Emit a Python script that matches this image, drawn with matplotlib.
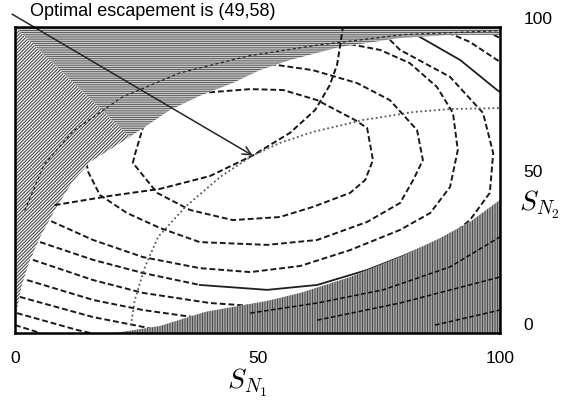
import matplotlib.pyplot as plt
from matplotlib.patches import Polygon

plt.rcParams['font.family'] = ['Liberation Sans', 'DejaVu Sans']
plt.rcParams['mathtext.fontset'] = 'cm'
plt.rcParams['hatch.linewidth'] = 0.85

# optimum of the escapement value surface
opt = (49, 58)

# contour lines in the open (white) part of the plane
loop1_x = [24.7, 26.4, 32.0, 38.1, 48.5, 55.3, 62.3, 70.1, 72.6, 73.8, 72.2, 69.1, 61.4, 54.6, 44.9, 36.1, 29.3, 24.3, 24.7]
loop1_y = [58.2, 67.3, 73.9, 78.4, 79.7, 79.4, 76.1, 69.6, 67.0, 56.5, 50.0, 45.8, 41.2, 37.9, 36.9, 40.2, 45.8, 55.6, 58.2]

loop2_x = [52.6, 61.4, 70.5, 77.3, 82.9, 84.1, 82.1, 79.4, 72.6, 62.3, 52.0, 38.1, 29.9, 23.1, 17.5, 15.1, 14.4]
loop2_y = [87.9, 85.9, 81.7, 76.1, 66.3, 56.5, 50.0, 42.5, 36.3, 30.4, 28.8, 29.7, 34.3, 39.2, 45.1, 52.6, 58.2]

loop3_x = [69.1, 75.3, 81.4, 87.0, 90.3, 91.3, 89.7, 85.6, 79.4, 69.1, 58.8, 48.5, 38.1, 26.4, 16.1, 7.8, 6.2]
loop3_y = [94.4, 92.5, 88.2, 80.4, 71.9, 59.8, 47.7, 39.2, 33.7, 27.1, 21.9, 19.9, 21.2, 24.8, 30.4, 36.3, 37.6]

loop4_x = [77.3, 79.4, 89.7, 96.5, 98.6, 97.9, 93.8, 90.0]
loop4_y = [95.8, 92.5, 83.7, 71.9, 58.8, 45.8, 36.9, 32.0]

low4_x = [3.5, 5.2, 16.1, 26.4, 38.1]
low4_y = [30.8, 29.7, 23.9, 19.6, 15.7]

solid_low_x = [38.1, 52.0, 62.3, 72.6, 79.4, 87.6]
solid_low_y = [15.7, 14.1, 15.7, 20.6, 24.8, 30.4]

solid_top_x = [80.4, 82.1, 91.8, 99.4, 100.0]
solid_top_y = [98.7, 98.0, 89.2, 79.4, 78.8]

outer1_x = [87.6, 93.8, 100.0]
outer1_y = [99.3, 95.1, 88.6]
outer2_x = [95.5, 100.0]
outer2_y = [100.0, 96.4]

low5_x = [3.7, 16.1, 26.4, 40.2, 52.0]
low5_y = [23.9, 17.3, 13.1, 9.8, 8.5]
low6_x = [2.5, 16.1, 26.4, 38.1]
low6_y = [17.3, 10.8, 7.5, 4.9]
low7_x = [1.0, 16.1, 26.4, 30.0]
low7_y = [11.8, 5.2, 2.0, 0.8]
low8_x = [0.4, 12.8, 15.5]
low8_y = [6.5, 1.0, 0.0]
low9_x = [0.0, 5.2]
low9_y = [2.6, 0.0]

# ridge lines through the optimum
ridge_dash_x = [8.2, 19.6, 29.9, 40.2, 49.0, 56.7, 61.9, 64.9, 66.4, 67.0, 67.6]
ridge_dash_y = [41.8, 44.8, 47.1, 51.3, 58.0, 65.4, 72.9, 81.0, 87.6, 93.5, 100.0]
ridge_dot_x = [23.9, 24.7, 26.8, 29.5, 35.1, 42.3, 49.0, 54.6, 61.4, 71.8, 82.1, 89.7, 100.0]
ridge_dot_y = [2.5, 10.8, 21.6, 31.4, 41.2, 51.0, 58.0, 62.1, 65.7, 69.6, 72.2, 73.2, 73.5]

# steep regions, bounded by the last open contour
steep_top_x = [0.0, 0.4, 1.4, 3.1, 5.2, 8.2, 11.8, 15.5, 23.7, 32.0, 38.1, 44.9, 50.5, 56.7, 67.0, 79.4, 89.7, 100.0]
steep_top_y = [1.0, 7.5, 15.7, 23.9, 31.4, 40.2, 49.3, 55.9, 64.1, 72.9, 77.5, 81.7, 85.9, 89.2, 93.5, 96.4, 97.4, 97.4]
steep_low_x = [20.6, 29.9, 39.2, 52.0, 58.8, 69.1, 79.4, 87.6, 93.8, 100.0]
steep_low_y = [0.0, 2.3, 6.9, 10.5, 13.1, 18.3, 24.8, 31.0, 36.3, 43.5]

# darker contours inside the steep regions
deep1_x = [48.5, 62.3, 75.9, 89.7, 100.0]
deep1_y = [6.5, 9.8, 14.1, 21.6, 31.4]
deep2_x = [62.3, 79.4, 100.0]
deep2_y = [4.2, 9.8, 18.3]
deep3_x = [86.6, 100.0]
deep3_y = [2.6, 7.5]
deep4_x = [2.0, 6.0, 12.0, 22.0, 34.0, 48.0, 62.0, 80.0, 100.0]
deep4_y = [40.0, 55.0, 66.0, 77.0, 85.0, 90.5, 94.0, 97.5, 98.8]

xticks = [0, 50, 100]
yticks = [0, 50, 100]

fig = plt.figure(figsize=(5.66, 4.07), dpi=100)
ax = fig.add_axes([15 / 566, 74 / 407, 485 / 566, 306 / 407])
ax.set_xlim(0, 100)
ax.set_ylim(0, 100)

dash = dict(color='0.1', lw=1.4, linestyle=(0, (3, 1.5)), zorder=2)
for xs, ys in [(loop1_x, loop1_y), (loop2_x, loop2_y), (loop3_x, loop3_y),
               (loop4_x, loop4_y), (low4_x, low4_y), (outer1_x, outer1_y),
               (outer2_x, outer2_y), (low5_x, low5_y), (low6_x, low6_y),
               (low7_x, low7_y), (low8_x, low8_y), (low9_x, low9_y)]:
    ax.plot(xs, ys, **dash)
ax.plot(solid_low_x, solid_low_y, color='0.12', lw=1.3, zorder=2)
ax.plot(solid_top_x, solid_top_y, color='0.12', lw=1.3, zorder=2)

# hatched steep areas
split = 8
left_pts = [(0, 100), (0, steep_top_y[0])] + list(zip(steep_top_x[:split + 1], steep_top_y[:split + 1]))
top_pts = [(0, 100), (steep_top_x[split], steep_top_y[split])] + \
    list(zip(steep_top_x[split + 1:], steep_top_y[split + 1:])) + [(100, 100)]
low_pts = list(zip(steep_low_x, steep_low_y)) + [(100, 0)]

ax.add_patch(Polygon(left_pts, closed=True, facecolor='white', edgecolor='0.3',
                     lw=0, hatch='/' * 10, zorder=3))
ax.add_patch(Polygon(top_pts, closed=True, facecolor='white', edgecolor='0.38',
                     lw=0, hatch='-' * 9, zorder=3))
ax.add_patch(Polygon(low_pts, closed=True, facecolor='white', edgecolor='0.3',
                     lw=0, hatch='|' * 10, zorder=3))

for xs, ys in [(deep1_x, deep1_y), (deep2_x, deep2_y), (deep3_x, deep3_y)]:
    ax.plot(xs, ys, color='0.05', lw=1.1, linestyle=(0, (3, 1.6)), zorder=4)
ax.plot(deep4_x, deep4_y, color='0.15', lw=0.9, linestyle=(0, (2.5, 2)), zorder=4)

ax.plot(ridge_dash_x, ridge_dash_y, color='0.08', lw=1.4, linestyle=(0, (3, 1.5)), zorder=4)
ax.plot(ridge_dot_x, ridge_dot_y, color='0.35', lw=1.3, linestyle=(0, (1, 1.5)), zorder=4)

ax.annotate('', xy=opt, xytext=(-0.6, 104.2), annotation_clip=False,
            arrowprops=dict(arrowstyle='->,head_length=0.6,head_width=0.3',
                            color='0.15', lw=1.1, shrinkA=0, shrinkB=0), zorder=5)
fig.text(30 / 566, 1 - 11 / 407, 'Optimal escapement is (49,58)', ha='left', va='center', fontsize=13)

for s in ax.spines.values():
    s.set_linewidth(1.8)
    s.set_zorder(6)

ax.set_xticks(xticks)
ax.yaxis.tick_right()
ax.set_yticks(yticks)
ax.tick_params(axis='x', length=0, pad=13, labelsize=12.5)
ax.tick_params(axis='y', length=0, pad=17, labelsize=12.5)
for lbl in ax.get_yticklabels():
    lbl.set_va('bottom')

ax.text(0.478, -0.163, r'$S_{N_1}$', transform=ax.transAxes, ha='center', va='center', fontsize=20)
ax.text(1.04, 0.418, r'$S_{N_2}$', transform=ax.transAxes, ha='left', va='center', fontsize=20)

fig.savefig('out.png', dpi=100)
